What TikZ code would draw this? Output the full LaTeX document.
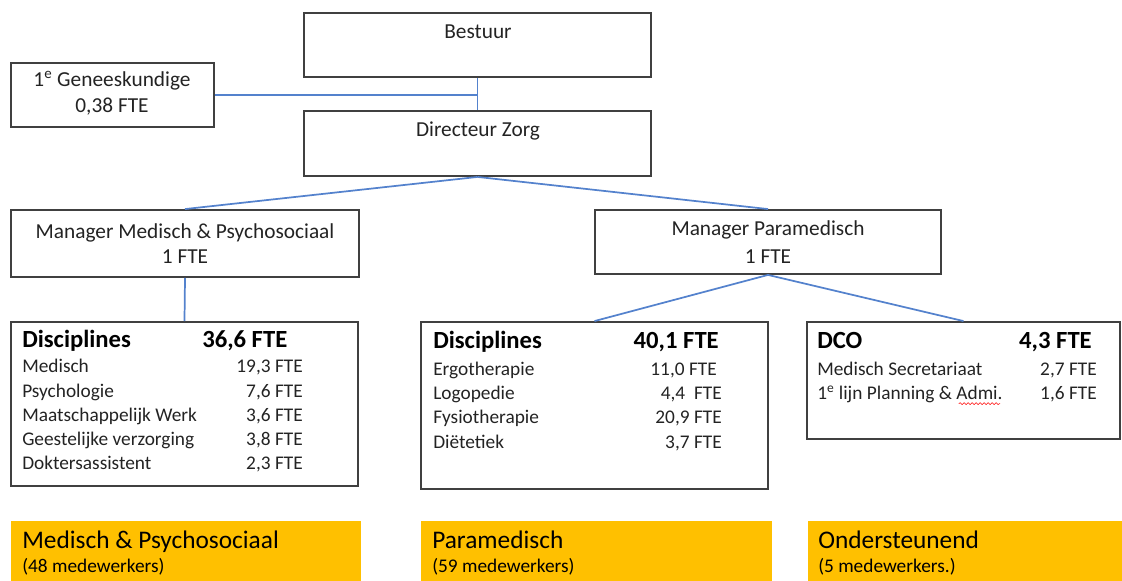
\documentclass[tikz,border=0pt]{standalone}
\usepackage{fontspec}
\setmainfont{Carlito}
\usetikzlibrary{fit,decorations.pathmorphing}
\definecolor{frameGray}{RGB}{64,64,64}
\definecolor{linkBlue}{RGB}{84,130,205}
\definecolor{groupGold}{RGB}{255,192,0}
\definecolor{inkGray}{RGB}{35,35,35}

\begin{document}
\begin{tikzpicture}[x=0.75pt, y=-0.75pt,
    orgbox/.style={draw=frameGray, line width=1.4pt, inner sep=0pt},
    goldbox/.style={fill=groupGold, inner sep=0pt},
    link/.style={draw=linkBlue, line width=1.3pt},
    boxtext/.style={text=inkGray, font=\fontsize{16}{19}\selectfont, anchor=base, inner sep=0pt},
    head/.style={text=black, font=\fontsize{18.5}{22}\selectfont\bfseries, anchor=base west, inner sep=0pt},
    row/.style={text=inkGray, font=\fontsize{14.5}{17}\selectfont, anchor=base west, inner sep=0pt},
    fte/.style={row, anchor=base east},
    grouptitle/.style={text=black, font=\fontsize{19}{22}\selectfont, anchor=base west, inner sep=0pt},
    groupcount/.style={text=black, font=\fontsize{14.5}{17}\selectfont, anchor=base west, inner sep=0pt}]
    \clip (0,0) rectangle (1122,581);

    % Top of the organisation
    \node[orgbox, fit={(304,13) (651,77)}] (bestuur) {};
    \node[boxtext] (bestuurtxt) at (478,39) {Bestuur};
    \node[orgbox, fit={(11,63) (214,127)}] (genees) {};
    \node[boxtext] (geneestxt) at (112,87) {1\textsuperscript{e} Geneeskundige};
    \node[boxtext] (geneesfte) at (112,113) {0,38 FTE};
    \node[orgbox, fit={(304,111) (651,176)}] (directeur) {};
    \node[boxtext] (directeurtxt) at (478,137) {Directeur Zorg};

    % Managers
    \node[orgbox, fit={(11,210) (359,277)}] (mgrmed) {};
    \node[boxtext] (mgrmedtxt) at (185,239) {Manager Medisch \& Psychosociaal};
    \node[boxtext] (mgrmedfte) at (185,264) {1 FTE};
    \node[orgbox, fit={(595,210) (941,274)}] (mgrpara) {};
    \node[boxtext] (mgrparatxt) at (768,236) {Manager Paramedisch};
    \node[boxtext] (mgrparafte) at (768,263) {1 FTE};

    % Disciplines medisch & psychosociaal
    \node[orgbox, fit={(11,322) (358,486)}] (discmed) {};
    \node[head] (discmedhead) at (22,347) {Disciplines};
    \node[head] (discmedtotal) at (202,347) {36,6 FTE};
    \node[row] (medrow1) at (22,373) {Medisch};
    \node[fte] (medval1) at (303,373) {19,3 FTE};
    \node[row] (medrow2) at (22,397) {Psychologie};
    \node[fte] (medval2) at (303,397) {7,6 FTE};
    \node[row] (medrow3) at (22,421) {Maatschappelijk Werk};
    \node[fte] (medval3) at (303,421) {3,6 FTE};
    \node[row] (medrow4) at (22,445) {Geestelijke verzorging};
    \node[fte] (medval4) at (303,445) {3,8 FTE};
    \node[row] (medrow5) at (22,469) {Doktersassistent};
    \node[fte] (medval5) at (303,469) {2,3 FTE};

    % Disciplines paramedisch
    \node[orgbox, fit={(421,322) (768,489)}] (discpara) {};
    \node[head] (discparahead) at (433,349) {Disciplines};
    \node[head, anchor=base east] (discparatotal) at (719,349) {40,1 FTE};
    \node[row] (pararow1) at (433,375) {Ergotherapie};
    \node[fte] (paraval1) at (717,375) {11,0 FTE};
    \node[row] (pararow2) at (433,399) {Logopedie};
    \node[fte] (paraval2) at (722,399) {4,4\ \ FTE};
    \node[row] (pararow3) at (433,423) {Fysiotherapie};
    \node[fte] (paraval3) at (722,423) {20,9 FTE};
    \node[row] (pararow4) at (433,448) {Diëtetiek};
    \node[fte] (paraval4) at (722,448) {3,7 FTE};

    % DCO
    \node[orgbox, fit={(807,322) (1120,439)}] (dco) {};
    \node[head] (dcohead) at (817,349) {DCO};
    \node[head, anchor=base east] (dcototal) at (1092,349) {4,3 FTE};
    \node[row] (dcorow1) at (817,375) {Medisch Secretariaat};
    \node[fte] (dcoval1) at (1097,375) {2,7 FTE};
    \node[row] (dcorow2) at (817,399) {1\textsuperscript{e} lijn Planning \& Admi.};
    \node[fte] (dcoval2) at (1097,399) {1,6 FTE};
    \draw[red, decorate, decoration={snake, amplitude=0.7pt, segment length=3pt}]
        ([xshift=-33pt,yshift=-3.5pt]dcorow2.base east) -- ([xshift=-2pt,yshift=-3.5pt]dcorow2.base east);

    % Connectors
    \draw[link] (bestuur.south) -- (directeur.north);
    \draw[link] (genees.east) -- (genees.east -| bestuur.south);
    \draw[link] (directeur.south) -- (mgrmed.north);
    \draw[link] (directeur.south) -- (mgrpara.north);
    \draw[link] (mgrmed.south) -- (discmed.north);
    \draw[link] (mgrpara.south) -- (discpara.north);
    \draw[link] (mgrpara.south) -- (dco.north);

    % Groups
    \node[goldbox, fit={(11,521) (361,595)}] (groupmed) {};
    \node[grouptitle] (groupmedtxt) at (22,548) {Medisch \& Psychosociaal};
    \node[groupcount] (groupmedcnt) at (22,572) {(48 medewerkers)};
    \node[goldbox, fit={(421,521) (772,595)}] (grouppara) {};
    \node[grouptitle] (groupparatxt) at (432,548) {Paramedisch};
    \node[groupcount] (groupparacnt) at (432,572) {(59 medewerkers)};
    \node[goldbox, fit={(808,521) (1130,595)}] (groupdco) {};
    \node[grouptitle] (groupdcotxt) at (818,548) {Ondersteunend};
    \node[groupcount] (groupdcocnt) at (818,572) {(5 medewerkers.)};
\end{tikzpicture}
\end{document}
